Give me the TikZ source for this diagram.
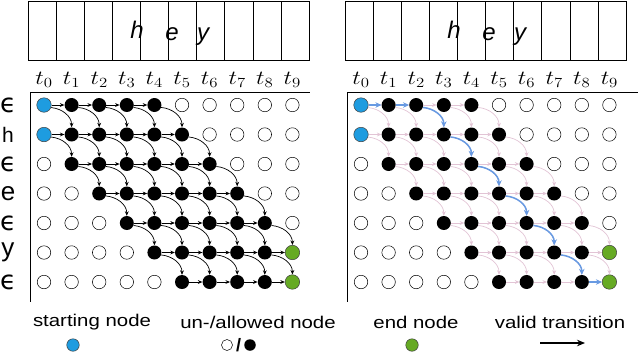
\RequirePackage{fix-cm}
\documentclass[tikz,border=0pt]{standalone}
\usepackage[no-math]{fontspec}
\newfontfamily\helv{Liberation Sans}
\newfontfamily\greekfam{DejaVu Sans}
\usetikzlibrary{arrows.meta}

\definecolor{startblue}{RGB}{30,156,224}
\definecolor{endgreen}{RGB}{102,170,36}
\definecolor{pathblue}{RGB}{104,154,226}
\definecolor{faintpink}{RGB}{226,196,213}

\newcommand\epsrow{{\greekfam ϵ}}

\tikzset{
  freenode/.style={circle, draw, line width=0.5pt, fill=white, inner sep=0pt, minimum size=13.5pt},
  okaynode/.style={circle, fill=black, inner sep=0pt, minimum size=14pt},
  startnode/.style={circle, draw=black!75, line width=0.5pt, fill=startblue, inner sep=0pt, minimum size=14.5pt},
  endnode/.style={circle, draw=black!75, line width=0.5pt, fill=endgreen, inner sep=0pt, minimum size=14.5pt},
  hop/.style={-{Stealth[length=4.5pt,width=3.8pt]}, line width=0.7pt},
  blackhop/.style={hop, black},
  pinkhop/.style={hop, faintpink},
  pathhop/.style={-{Stealth[length=6pt,width=5.5pt]}, line width=1.5pt, pathblue},
  timelabel/.style={font=\fontsize{20}{22}\selectfont, xscale=1.2, inner sep=0pt},
  rowlabel/.style={font=\helv\fontsize{26}{28}\selectfont, inner sep=0pt},
  keytext/.style={font=\helv\fontsize{17}{19}\selectfont, xscale=1.2, inner sep=0pt},
  inkletter/.style={font=\helv\itshape\fontsize{24}{26}\selectfont, inner sep=0pt},
}

\begin{document}
\begin{tikzpicture}[x=1pt, y=1pt]
  \useasboundingbox (0,0) rectangle (640,-357);

  \foreach \p/\ox/\ext/\hs in {L/0/0/blackhop, R/317/11/pinkhop}{
    % input frames
    \draw[line width=0.6pt] (\ox+28,-1.5) rectangle (\ox+309,-60);
    \foreach \k in {1,...,9}
      \draw[line width=0.6pt] (\ox+28+28.1*\k,-1.5) -- (\ox+28+28.1*\k,-60);
    \node[inkletter] (\p-h) at (\ox+137,-30) {h};
    \node[inkletter] (\p-e) at (\ox+172,-34) {e};
    \node[inkletter] (\p-y) at (\ox+203,-37) {y};

    % time steps and axes
    \foreach \c in {0,...,9}
      \node[timelabel] (\p-t\c) at (\ox+44+27.6*\c,-80) {$t_{\c}$};
    \draw[line width=0.9pt] (\ox+30,-92) -- (\ox+310+\ext,-92);
    \draw[line width=0.9pt] (\ox+30,-92) -- (\ox+30,-302);

    % lattice nodes
    \foreach \r/\lo/\hi in {0/1/4, 1/1/5, 2/1/6, 3/2/7, 4/3/8, 5/4/8, 6/5/8}
      \foreach \c in {0,...,9}{
        \def\st{freenode}
        \ifnum\c<\lo\else\ifnum\c>\hi\else\def\st{okaynode}\fi\fi
        \ifnum\c=0 \ifnum\r<2 \def\st{startnode}\fi\fi
        \ifnum\c=9 \ifnum\r>4 \def\st{endnode}\fi\fi
        \node[\st] (\p-\r-\c) at (\ox+44+27.6*\c,-105-29.5*\r) {};
      }

    % staying in a row
    \foreach \r/\lo/\hi in {0/0/4, 1/0/5, 2/1/6, 3/2/7, 4/3/8, 5/4/9, 6/5/9}{
      \pgfmathtruncatemacro\last{\hi-1}
      \foreach \c in {\lo,...,\last}{
        \pgfmathtruncatemacro\n{\c+1}
        \draw[\hs] (\p-\r-\c) -- (\p-\r-\n);
      }
    }
    % moving one row down
    \foreach \r/\lo/\hi in {0/0/4, 1/0/5, 2/1/6, 3/2/7, 4/3/8, 5/4/8}{
      \pgfmathtruncatemacro\dn{\r+1}
      \foreach \c in {\lo,...,\hi}{
        \pgfmathtruncatemacro\n{\c+1}
        \draw[\hs] (\p-\r-\c.-20) to[out=-5, in=90] (\p-\dn-\n.north);
      }
    }
  }

  % row labels
  \foreach \r/\s in {0/\epsrow, 1/{\fontsize{21}{23}\selectfont h}, 2/\epsrow, 3/e, 4/\epsrow, 5/y, 6/\epsrow}
    \node[rowlabel] (row\r) at (8,-105-29.5*\r) {\s};

  % one valid path
  \draw[pathhop] (R-0-0) -- (R-0-1);
  \draw[pathhop] (R-0-1) -- (R-0-2);
  \foreach \r/\c in {0/2, 1/3, 2/4, 3/5, 4/6, 5/7}{
    \pgfmathtruncatemacro\dn{\r+1}
    \pgfmathtruncatemacro\n{\c+1}
    \draw[pathhop] (R-\r-\c.-20) to[out=-5, in=90] (R-\dn-\n.north);
  }
  \draw[pathhop] (R-6-8) -- (R-6-9);

  % legend
  \node[keytext] (key-start) at (92,-322) {starting node};
  \node[startnode, minimum size=12.5pt] (key-startdot) at (73,-345) {};
  \node[keytext] (key-allow) at (258,-322) {un-/allowed node};
  \node[freenode, minimum size=11pt] (key-free) at (227,-345) {};
  \node[okaynode, minimum size=11.5pt] (key-okay) at (250,-345) {};
  \node[font=\helv\bfseries\fontsize{18}{20}\selectfont, inner sep=0pt] (key-slash) at (238.5,-345) {/};
  \node[keytext] (key-end) at (416,-322) {end node};
  \node[endnode, minimum size=12.5pt] (key-enddot) at (412,-345) {};
  \node[keytext] (key-valid) at (560,-322) {valid transition};
  \coordinate (key-tail) at (540,-343);
  \coordinate (key-head) at (585,-343);
  \draw[-{Stealth[length=8pt,width=6.5pt]}, line width=1.8pt] (key-tail) -- (key-head);
\end{tikzpicture}
\end{document}
